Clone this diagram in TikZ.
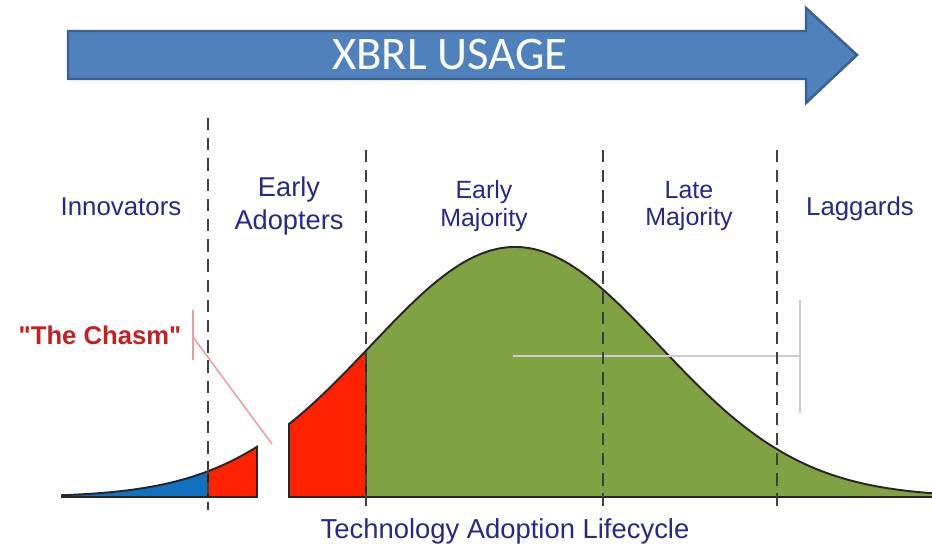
\documentclass[tikz,border=0pt]{standalone}
\usepackage{fontspec}
\setmainfont{Liberation Sans}
\newfontfamily\carlito{Carlito}
\newfontfamily\chasmfont[Ligatures=ResetAll]{Liberation Sans}
\definecolor{usageblue}{RGB}{79,129,189}
\definecolor{usageedge}{RGB}{58,96,142}
\definecolor{innoblue}{RGB}{18,112,192}
\definecolor{chasmred}{RGB}{255,34,0}
\definecolor{majgreen}{RGB}{128,162,66}
\definecolor{labelblue}{RGB}{40,40,135}
\definecolor{calloutred}{RGB}{195,32,32}
\definecolor{calloutpink}{RGB}{232,160,160}
\definecolor{guidegray}{RGB}{205,205,205}

\begin{document}
\begin{tikzpicture}[x=0.02cm, y=-0.02cm,
  declare function={bell(\x)=497-250*exp(-0.5*((\x-515)/144)^2);},
  lbl/.style={text=labelblue, align=center, font=\fontsize{14.7}{19.3}\selectfont},
  smalllbl/.style={text=labelblue, align=center, font=\fontsize{14.2}{15.9}\selectfont},
  divider/.style={line width=1.3pt, black!75, dash pattern=on 7pt off 4.5pt},
  outline/.style={line width=1.1pt, black!85}]
\useasboundingbox (0,0) rectangle (932,546);
% usage arrow
\draw[fill=usageblue, draw=usageedge, line width=1.4pt] (68,31) -- (806,31) -- (806,8) -- (857,55) -- (806,103) -- (806,79) -- (68,79) -- cycle;
\node[text=white, font=\carlito\fontsize{26.6}{30}\selectfont] (usage) at (450,55) {XBRL USAGE};
% bell curve
\fill[innoblue] (62,497) -- plot[domain=62:208, samples=40] (\x,{bell(\x)}) -- (208,497) -- cycle;
\fill[chasmred] (208,497) -- plot[domain=208:257, samples=20] (\x,{bell(\x)}) -- (257,497) -- cycle;
\fill[chasmred] (289,497) -- plot[domain=289:366, samples=20] (\x,{bell(\x)}) -- (366,497) -- cycle;
\fill[majgreen] (366,497) -- plot[domain=366:932, samples=120] (\x,{bell(\x)}) -- (932,497) -- cycle;
\draw[outline] (62,497) -- plot[domain=62:257, samples=50] (\x,{bell(\x)}) -- (257,497) -- cycle;
\draw[outline] (208,497) -- (208,{bell(208)});
\draw[outline] (932,497) -- (289,497) -- plot[domain=289:932, samples=150] (\x,{bell(\x)});
\draw[outline] (366,497) -- (366,{bell(366)});
% guides
\draw[guidegray, line width=1pt] (513,356) -- (800,356);
\draw[guidegray, line width=1pt] (800,300) -- (800,413);
% dividers
\draw[divider] (208,118) -- (208,510);
\draw[divider] (366,150) -- (366,510);
\draw[divider] (603,150) -- (603,510);
\draw[divider] (777,150) -- (777,510);
% labels
\node[lbl] (innovators) at (121,207) {Innovators};
\node[lbl, font=\fontsize{15.5}{19.3}\selectfont] (adopters) at (289,206) {Early\\Adopters};
\node[smalllbl] (earlymaj) at (484,206) {Early\\Majority};
\node[smalllbl] (latemaj) at (689,206) {Late\\Majority};
\node[lbl] (laggards) at (860,209) {Laggards};
\node[lbl, font=\fontsize{15.6}{19}\selectfont] (lifecycle) at (505,531) {Technology Adoption Lifecycle};
\node[text=calloutred, font=\chasmfont\bfseries\fontsize{14.6}{17}\selectfont] (chasm) at (100,335) {"The Chasm"};
% chasm callout
\coordinate (tick top) at (193,310);
\coordinate (tick bottom) at (193,360);
\coordinate (tick mid) at (193,337);
\coordinate (gap) at (272,444);
\draw[calloutpink, line width=0.9pt] (tick top) -- (tick bottom);
\draw[calloutpink, line width=0.9pt] (tick mid) -- (gap);
\end{tikzpicture}
\end{document}
